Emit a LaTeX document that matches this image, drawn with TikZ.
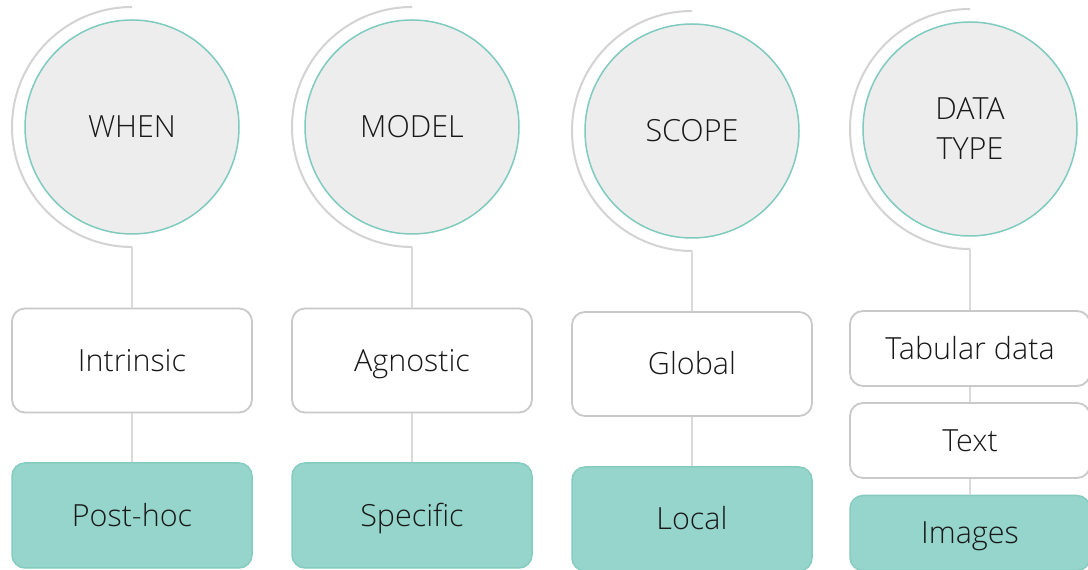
\documentclass[tikz,border=0pt]{standalone}
\usepackage{fontspec}
\setmainfont{Open Sans}[UprightFont=* Light, Ligatures=NoCommon]
\definecolor{discfill}{HTML}{EDEDED}
\definecolor{discline}{HTML}{7FCBBF}
\definecolor{ringline}{HTML}{D3D3D3}
\definecolor{boxline}{HTML}{C9C9C9}
\definecolor{tealfill}{HTML}{95D5CB}
\definecolor{tealline}{HTML}{86CBC0}
\definecolor{linkline}{HTML}{DADADA}
\begin{document}
\begin{tikzpicture}[x=1pt,y=1pt,
  every node/.style={font=\fontsize{30.5}{40}\selectfont, text=black!90,
    text height=22pt, text depth=0pt},
  disc/.style={circle, draw=discline, line width=1.5pt, fill=discfill,
    minimum size=214pt, inner sep=0pt, align=center},
  ring/.style={draw=ringline, line width=2pt},
  plainbox/.style={rectangle, rounded corners=13pt, draw=boxline, line width=1.8pt,
    fill=white, minimum width=240pt, inner sep=0pt},
  tealbox/.style={plainbox, draw=tealline, line width=1.5pt, fill=tealfill},
  link/.style={draw=linkline, line width=1.5pt}]
\useasboundingbox (0,0) rectangle (1088,570);
\clip (0,0) rectangle (1088,570);

% header discs
\node[disc] (c1) at (132,{570-127}) {WHEN};
\node[disc] (c2) at (412,{570-127}) {MODEL};
\node[disc] (c3) at (692,{570-131}) {SCOPE};
\node[disc, text height=62pt] (c4) at (970,{570-129}) {DATA\\TYPE};

% grey half rings on the left side of each disc
\foreach \c in {c1,c2,c3,c4}{
  \draw[ring] ([yshift=120pt]\c.center) arc[start angle=90, end angle=270, radius=120pt];
  \coordinate (\c-foot) at ([yshift=-120pt]\c.center);
}

% option boxes
\node[plainbox, minimum height=104pt] (b1) at (132,{570-360.5}) {Intrinsic};
\node[tealbox,  minimum height=105pt] (p1) at (132,{570-515.5}) {Post-hoc};
\node[plainbox, minimum height=104pt] (b2) at (412,{570-360.5}) {Agnostic};
\node[tealbox,  minimum height=105pt] (p2) at (412,{570-515.5}) {Specific};
\node[plainbox, minimum height=104pt] (b3) at (692,{570-364}) {Global};
\node[tealbox,  minimum height=104pt] (p3) at (692,{570-519}) {Local};
\node[plainbox, minimum height=75pt] (t4) at (970,{570-348.5}) {Tabular data};
\node[plainbox, minimum height=75pt] (x4) at (970,{570-440.5}) {Text};
\node[tealbox,  minimum height=75pt] (i4) at (970,{570-533}) {Images};

% vertical connectors
\draw[link] (c1-foot) -- (b1.north);
\draw[link] (b1.south) -- (p1.north);
\draw[link] (c2-foot) -- (b2.north);
\draw[link] (b2.south) -- (p2.north);
\draw[link] (c3-foot) -- (b3.north);
\draw[link] (b3.south) -- (p3.north);
\draw[link] (c4-foot) -- (t4.north);
\draw[link] (t4.south) -- (x4.north);
\draw[link] (x4.south) -- (i4.north);
\end{tikzpicture}
\end{document}
